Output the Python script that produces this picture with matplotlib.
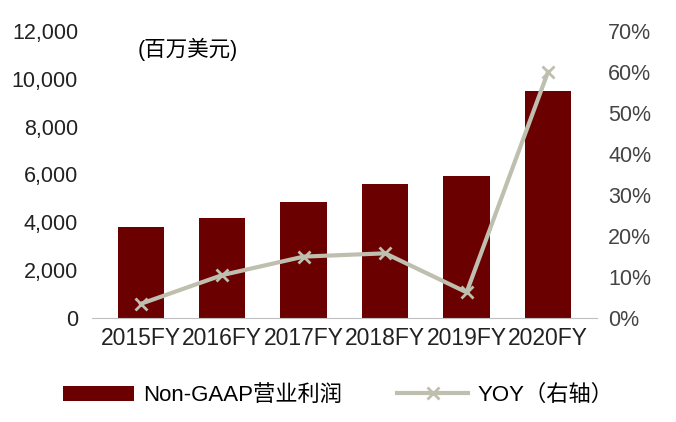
import matplotlib
matplotlib.use("Agg")
import matplotlib.pyplot as plt
from matplotlib.ticker import FuncFormatter

plt.rcParams['font.family'] = ['Liberation Sans', 'Noto Sans CJK SC']

years = ['2015FY', '2016FY', '2017FY', '2018FY', '2019FY', '2020FY']
profit = [3800, 4200, 4850, 5600, 5950, 9500]
yoy = [3.5, 10.5, 15.0, 15.8, 6.3, 60.0]

fig = plt.figure(figsize=(6.76, 4.22), dpi=100)
ax = fig.add_axes([0.136, 0.246, 0.747, 0.681])
x = range(len(years))
ax.bar(x, profit, width=0.57, color='#6B0000', label='Non-GAAP营业利润', zorder=2)
ax.set_ylim(0, 12000)
ax.set_yticks(range(0, 12001, 2000))
ax.yaxis.set_major_formatter(FuncFormatter(lambda v, p: f'{int(v):,}'))
ax.set_xlim(-0.6, 5.6)
ax.set_xticks(list(x))
ax.set_xticklabels(years, fontsize=16.5)
for s in ['top', 'right', 'left']:
    ax.spines[s].set_visible(False)
ax.spines['bottom'].set_color('#BFBFBF')
ax.tick_params(axis='both', length=0, labelsize=15.5, colors='#222222')
ax.tick_params(axis='x', labelsize=16.5, pad=6)
ax.tick_params(axis='y', pad=10)
ax.text(0.09, 0.975, '(百万美元)', transform=ax.transAxes, fontsize=15.5, va='top')

ax2 = ax.twinx()
ax2.plot(list(x), yoy, color='#BFBFB0', lw=3, marker='x', ms=9, mew=2,
         label='YOY（右轴）', zorder=3)
ax2.set_ylim(0, 70)
ax2.set_yticks(range(0, 71, 10))
ax2.yaxis.set_major_formatter(FuncFormatter(lambda v, p: f'{int(v)}%'))
for s in ['top', 'right', 'left', 'bottom']:
    ax2.spines[s].set_visible(False)
ax2.tick_params(axis='y', length=0, labelsize=15.5, colors='#444444', pad=8)

h1, l1 = ax.get_legend_handles_labels()
h2, l2 = ax2.get_legend_handles_labels()
fig.legend(h1 + h2, l1 + l2, loc='lower center', bbox_to_anchor=(0.5, -0.01),
           ncol=2, frameon=False, fontsize=16, handlelength=3.2, columnspacing=2.5,
           handletextpad=0.4)
fig.savefig('out.png', dpi=100)
